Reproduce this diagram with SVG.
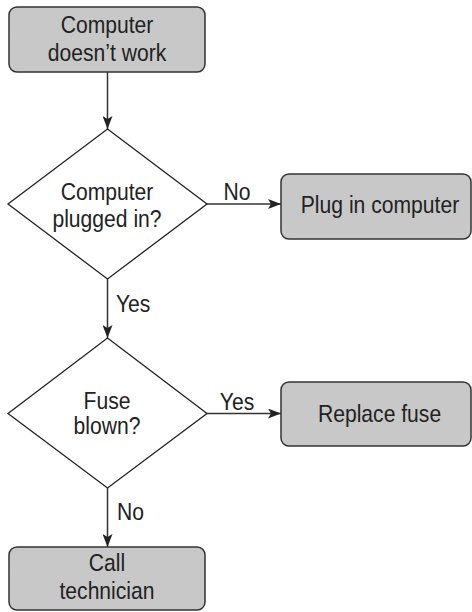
<svg xmlns="http://www.w3.org/2000/svg" width="472" height="612" viewBox="0 0 472 612">
<defs>
<marker id="arr" markerWidth="14" markerHeight="10" viewBox="0 0 14 10" refX="13" refY="5" orient="auto" markerUnits="userSpaceOnUse">
<path d="M0,0 L13,5 L0,10 L3,5 Z" fill="#222"/>
</marker>
</defs>
<style>
.box{fill:#c8c8c8;stroke:#333;stroke-width:1.5}
.dia{fill:#fff;stroke:#222;stroke-width:1.3}
.t{font-family:"Liberation Sans",Arial,sans-serif;font-size:24px;fill:#222;text-anchor:middle}
.lbl{font-family:"Liberation Sans",Arial,sans-serif;font-size:24px;fill:#222}
.c{stroke:#333;stroke-width:1.5;fill:none;marker-end:url(#arr)}
</style>
<rect width="472" height="612" fill="#fff"/>
<g id="start">
<rect class="box" x="9" y="7" width="196" height="65" rx="8"/>
<g transform="scale(0.88,1)">
<text class="t" x="121.6" y="33">Computer</text>
<text class="t" x="121.6" y="61">doesn’t work</text>
</g>
</g>
<g id="plugged">
<polygon class="dia" points="107.5,129 207,204 107.5,279 8,204"/>
<g transform="scale(0.88,1)">
<text class="t" x="121.6" y="200">Computer</text>
<text class="t" x="121.6" y="227">plugged in?</text>
</g>
</g>
<g id="plugin">
<rect class="box" x="281" y="174" width="190" height="65" rx="8"/>
<g transform="scale(0.88,1)">
<text class="t" x="431.8" y="213">Plug in computer</text>
</g>
</g>
<g id="fuse">
<polygon class="dia" points="107.5,338 207,413.5 107.5,488 8,413.5"/>
<g transform="scale(0.88,1)">
<text class="t" x="121.6" y="409">Fuse</text>
<text class="t" x="121.6" y="434">blown?</text>
</g>
</g>
<g id="replace">
<rect class="box" x="281" y="382" width="190" height="64" rx="8"/>
<g transform="scale(0.88,1)">
<text class="t" x="431.3" y="422">Replace fuse</text>
</g>
</g>
<g id="tech">
<rect class="box" x="9" y="547" width="196" height="63" rx="8"/>
<g transform="scale(0.88,1)">
<text class="t" x="121.6" y="571">Call</text>
<text class="t" x="121.6" y="599">technician</text>
</g>
</g>
<g id="connectors">
<line class="c" x1="107.5" y1="72" x2="107.5" y2="129"/>
<line class="c" x1="207" y1="204" x2="281" y2="204"/>
<line class="c" x1="107.5" y1="279" x2="107.5" y2="338"/>
<line class="c" x1="207" y1="413.5" x2="281" y2="413.5"/>
<line class="c" x1="107.5" y1="488" x2="107.5" y2="547"/>
<g transform="scale(0.88,1)">
<text class="lbl" x="269.3" y="200" text-anchor="middle">No</text>
<text class="lbl" x="131.8" y="312">Yes</text>
<text class="lbl" x="269.3" y="410" text-anchor="middle">Yes</text>
<text class="lbl" x="133" y="520">No</text>
</g>
</g>
</svg>
